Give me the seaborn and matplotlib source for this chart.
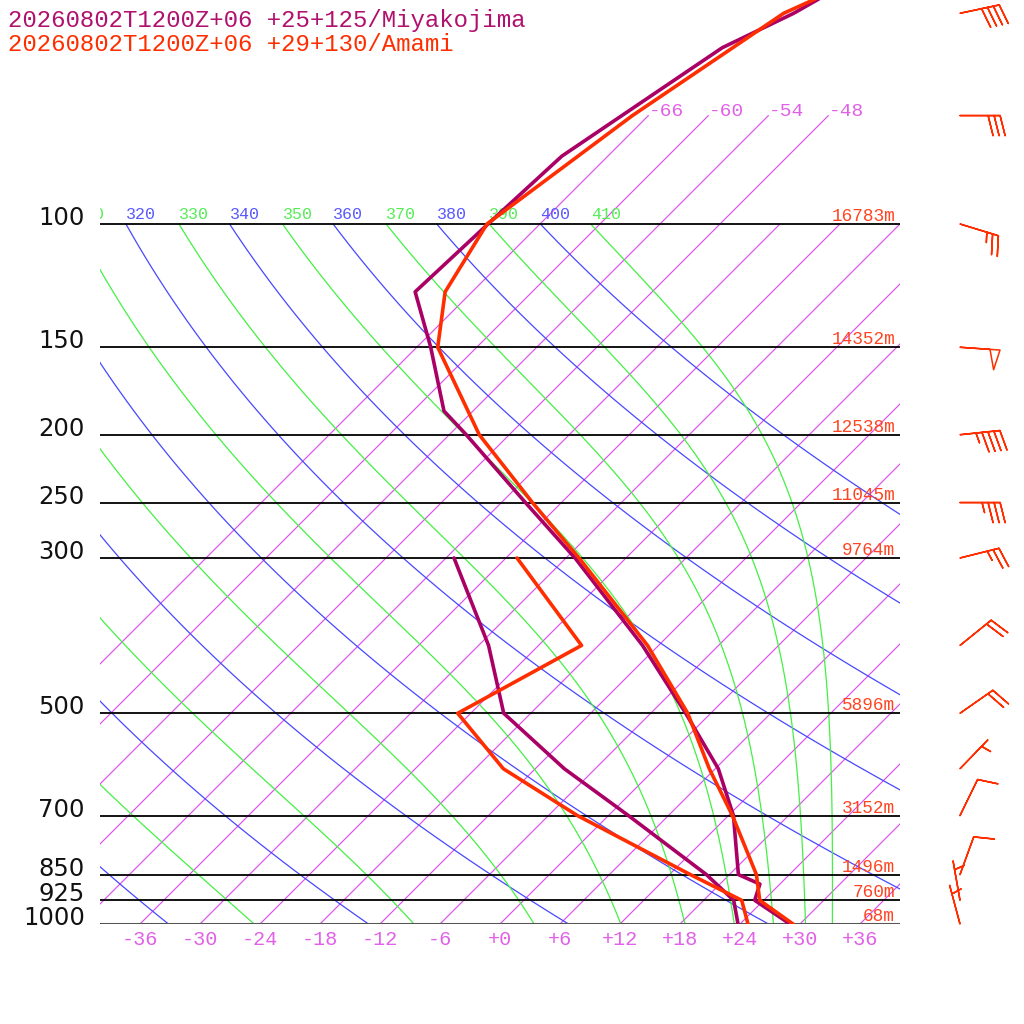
import numpy as np
import pandas as pd
import seaborn as sns
import matplotlib
matplotlib.use('Agg')
import matplotlib.pyplot as plt
import matplotlib.transforms as mtransforms

# standard levels with the heights written at the right edge (Amami)
levels = [1000, 925, 850, 700, 500, 300, 250, 200, 150, 100]
heights = [68, 760, 1496, 3152, 5896, 9764, 11045, 12538, 14352, 16783]

# Miyakojima sounding
miya_p = [1000, 925, 877, 850, 700, 600, 500, 400, 300, 250, 200, 185, 150, 125, 100, 80, 56, 50, 30]
miya_t = [29.0, 23.1, 22.0, 18.9, 12.5, 6.3, -2.5, -13.6, -29.1, -39.6, -52.3, -56.9,
          -64.6, -71.7, -71.2, -70.6, -65.4, -61.7, -50.0]
miya_dp = [1000, 925, 850, 700, 600, 500, 400, 300]
miya_td = [23.8, 21.0, 15.7, 2.0, -9.1, -20.7, -29.0, -41.2]

# Amami sounding
amami_p = [1000, 925, 850, 700, 600, 500, 400, 300, 250, 200, 150, 125, 100, 70, 50, 30]
amami_t = [29.3, 23.6, 20.7, 12.4, 5.4, -2.3, -13.1, -28.7, -38.9, -51.0, -63.9, -68.7,
           -71.3, -67.6, -62.7, -44.0]
amami_dp = [1000, 925, 850, 700, 600, 500, 400, 300]
amami_td = [24.8, 21.8, 14.1, -3.1, -15.2, -25.3, -19.7, -34.9]

# Amami winds (direction from, speed in kt)
wind_p = [50, 70, 100, 150, 200, 250, 300, 400, 500, 600, 700, 850, 925, 1000]
wind_dir = [78, 90, 107, 94, 84, 90, 76, 51, 55, 44, 26, 20, 350, 345]
wind_spd = [40, 30, 25, 50, 45, 35, 25, 20, 20, 5, 10, 10, 5, 5]

isotherms = list(range(-66, 37, 6))
thetas = list(range(240, 401, 20))
theta_es = list(range(230, 411, 20))
temp_ticks = list(range(-36, 37, 6))

titles = ["20260802T1200Z+06 +25+125/Miyakojima", "20260802T1200Z+06 +29+130/Amami"]

PURPLE = '#aa0066'
RED = '#ff2e00'
BLUE = '#4848ff'
GREEN = '#44f044'
MAG = '#dc50ec'
MONO = ['Liberation Mono', 'DejaVu Sans Mono']

SKEW = 30.4
P_TOP = 1000 * 10 ** (-924 / 700)


def skew_x(t, p):
    return np.asarray(t) + SKEW * np.log(1000.0 / np.asarray(p, dtype=float))


def theta_e(tc, p):
    tk = tc + 273.15
    es = 6.112 * np.exp(17.67 * tc / (tc + 243.5))
    es = np.minimum(es, 0.5 * p)
    r = 0.622 * es / (p - es)
    return tk * (1000 / p) ** (0.2854 * (1 - 0.28 * r)) * \
        np.exp((3.376 / tk - 0.00254) * r * 1000 * (1 + 0.81 * r))


def moist_t(the, p):
    lo = np.full_like(p, -130.0)
    hi = np.full_like(p, 45.0)
    for _ in range(60):
        mid = (lo + hi) / 2
        up = theta_e(mid, p) > the
        hi = np.where(up, mid, hi)
        lo = np.where(up, lo, mid)
    return (lo + hi) / 2


sns.set_theme(style='white')
plt.rcParams['font.family'] = ['DejaVu Sans']

fig = plt.figure(figsize=(10.24, 10.24), dpi=100)
ax = fig.add_axes([100 / 1024, 100 / 1024, 800 / 1024, 924 / 1024])
ax.set_yscale('log')
ax.set_ylim(1000, P_TOP)
ax.set_xlim(-40, 40)
for s in ax.spines.values():
    s.set_visible(False)
ax.yaxis.set_visible(False)

up5 = mtransforms.offset_copy(ax.transData, fig=fig, x=0, y=5, units='dots')

# isotherms
for t in isotherms:
    ptop = 70 if t <= -48 else 100
    pp = np.array([1000.0, ptop])
    ax.plot(skew_x(t, pp), pp, color=MAG, lw=0.85, zorder=1)
    if ptop == 70:
        ax.text(skew_x(t, 70), 70, f"{t:+d}", color='#e060e8', fontsize=14,
                family=MONO, ha='left', va='baseline', clip_on=True)

# dry adiabats
pp = np.geomspace(1000, 100, 80)
for th in thetas:
    tt = th * (pp / 1000) ** 0.2857 - 273.15
    ax.plot(skew_x(tt, pp), pp, color=BLUE, lw=0.9, zorder=1)
    lx = skew_x(tt[-1], 100)
    if lx > -45:
        ax.text(lx, 100, str(th), color='#5858ff', fontsize=12,
                family=MONO, ha='left', va='baseline', transform=up5, clip_on=True)

# moist adiabats
for the in theta_es:
    tt = moist_t(the, pp)
    ax.plot(skew_x(tt, pp), pp, color=GREEN, lw=0.9, zorder=1)
    lx = skew_x(tt[-1], 100)
    if lx > -45:
        ax.text(lx, 100, str(the), color='#55ee55', fontsize=12,
                family=MONO, ha='left', va='baseline', transform=up5, clip_on=True)

# pressure levels
ax.hlines(levels, -40, 40, color='black', lw=1.3, zorder=2)
ax.hlines([1000], -40, 40, color='#555555', lw=2.2, zorder=2)
left = mtransforms.offset_copy(ax.transData, fig=fig, x=-15, y=-1, units='dots')
right = mtransforms.offset_copy(ax.transData, fig=fig, x=-5, y=3, units='dots')
for p, h in zip(levels, heights):
    ax.text(-40, p, str(p), color='#111111', fontsize=17.5, ha='right',
            va='baseline', transform=left)
    ax.text(40, p, f"{h}m", color='#ff4422', fontsize=12.8, family=MONO,
            ha='right', va='baseline', transform=right)

# profiles
sns.lineplot(x=skew_x(miya_t, miya_p), y=miya_p, sort=False, estimator=None,
             color=PURPLE, lw=2.6, ax=ax, zorder=4)
sns.lineplot(x=skew_x(miya_td, miya_dp), y=miya_dp, sort=False, estimator=None,
             color=PURPLE, lw=2.6, ax=ax, zorder=4)
sns.lineplot(x=skew_x(amami_t, amami_p), y=amami_p, sort=False, estimator=None,
             color=RED, lw=2.6, ax=ax, zorder=5)
sns.lineplot(x=skew_x(amami_td, amami_dp), y=amami_dp, sort=False, estimator=None,
             color=RED, lw=2.6, ax=ax, zorder=5)
ax.set_ylim(1000, P_TOP)
ax.set_xlim(-40, 40)

ax.set_xticks(temp_ticks)
ax.set_xticklabels([f"{t:+d}" if t >= 0 else str(t) for t in temp_ticks],
                   family=MONO, fontsize=14.5, color='#e060e8')
ax.tick_params(axis='x', length=0, pad=4)
ax.set_xlabel('')
ax.set_ylabel('')

# wind barbs
bx = fig.add_axes([930 / 1024, 100 / 1024, 94 / 1024, 924 / 1024])
bx.set_yscale('log')
bx.set_ylim(1000, P_TOP)
bx.set_xlim(0, 94)
bx.axis('off')
d = np.radians(wind_dir)
u = -np.array(wind_spd) * np.sin(d)
v = -np.array(wind_spd) * np.cos(d)
bx.barbs(np.full(len(wind_p), 30.0), wind_p, u, v, length=7.6, barbcolor=RED,
         flagcolor='none', linewidth=1.1, clip_on=False,
         sizes=dict(spacing=0.15, height=0.5, width=0.25))

fig.text(8 / 1024, 1 - 27 / 1024, titles[0], color='#b0106e', fontsize=17.3,
         family=MONO, va='baseline')
fig.text(8 / 1024, 1 - 51 / 1024, titles[1], color=RED, fontsize=17.3,
         family=MONO, va='baseline')

fig.savefig('out.png', dpi=100)
